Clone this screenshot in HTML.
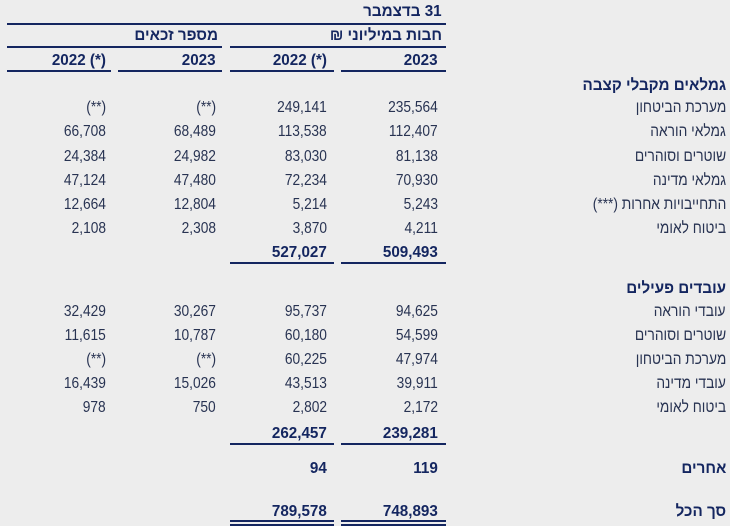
<!DOCTYPE html>
<html><head><meta charset="utf-8"><style>
body{margin:0;width:730px;height:526px;background:#ededed;overflow:hidden;position:relative;font-family:"Liberation Sans","DejaVu Sans",sans-serif;color:#283352;}
.t{position:absolute;white-space:nowrap;font-size:16px;line-height:18px;direction:rtl;transform:scaleX(0.86);transform-origin:right center;}
.n{direction:ltr;unicode-bidi:isolate;text-align:right;}
.b{font-weight:bold;color:#142660;font-size:16px;transform:scaleX(0.95);}
.l{position:absolute;height:2px;background:#142660;}
</style></head><body>
<div class="t b" style="right:288px;top:3px">31 בדצמבר</div>
<div class="l" style="left:7px;width:439px;top:23px"></div>
<div class="t b" style="right:288px;top:27px">חבות במיליוני ₪</div>
<div class="t b" style="right:512px;top:27px">מספר זכאים</div>
<div class="l" style="left:230px;width:216px;top:46px"></div>
<div class="l" style="left:7px;width:215px;top:46px"></div>
<div class="t b n" dir="ltr" style="right:292px;top:52px">2023</div>
<div class="t b n" dir="ltr" style="right:403px;top:52px">2022 (*)</div>
<div class="t b n" dir="ltr" style="right:514px;top:52px">2023</div>
<div class="t b n" dir="ltr" style="right:624px;top:52px">2022 (*)</div>
<div class="l" style="left:341px;width:105px;top:70px"></div>
<div class="l" style="left:230px;width:104px;top:70px"></div>
<div class="l" style="left:118px;width:104px;top:70px"></div>
<div class="l" style="left:7px;width:104px;top:70px"></div>
<script>
const rows=[
[86,"גמלאים מקבלי קצבה",null,1],
[108,"מערכת הביטחון",["235,564","249,141","(**)","(**)"]],
[132,"גמלאי הוראה",["112,407","113,538","68,489","66,708"]],
[157,"שוטרים וסוהרים",["81,138","83,030","24,982","24,384"]],
[181,"גמלאי מדינה",["70,930","72,234","47,480","47,124"]],
[205,"התחייבויות אחרות (***)",["5,243","5,214","12,804","12,664"]],
[229,"ביטוח לאומי",["4,211","3,870","2,308","2,108"]],
[253,"",["509,493","527,027"],1],
[289,"עובדים פעילים",null,1],
[312,"עובדי הוראה",["94,625","95,737","30,267","32,429"]],
[336,"שוטרים וסוהרים",["54,599","60,180","10,787","11,615"]],
[360,"מערכת הביטחון",["47,974","60,225","(**)","(**)"]],
[384,"עובדי מדינה",["39,911","43,513","15,026","16,439"]],
[408,"ביטוח לאומי",["2,172","2,802","750","978"]],
[434,"",["239,281","262,457"],1],
[469,"אחרים",["119","94"],1],
[512,"סך הכל",["748,893","789,578"],1]];
const rights=[292,403,514,624];
const root=document.body;
function add(cls,txt,r,y,ltr){const d=document.createElement('div');d.className=cls;d.textContent=txt;d.style.right=r+'px';d.style.top=(y-9)+'px';
if(ltr)d.setAttribute('dir','ltr');


root.appendChild(d);}
rows.forEach(([y,lab,vals,bold])=>{
 if(lab) add('t'+(bold?' b':''),lab,4,y,false);
 if(vals) vals.forEach((v,i)=>add('t n'+(bold?' b':''),v,rights[i],y,true));
});
function line(x,w,y){const d=document.createElement('div');d.className='l';d.style.left=x+'px';d.style.width=w+'px';d.style.top=y+'px';


root.appendChild(d);}
[262,443].forEach(y=>{line(341,105,y);line(230,104,y);});
[520,524].forEach(y=>{line(341,105,y);line(230,104,y);});
</script>
</body></html>
